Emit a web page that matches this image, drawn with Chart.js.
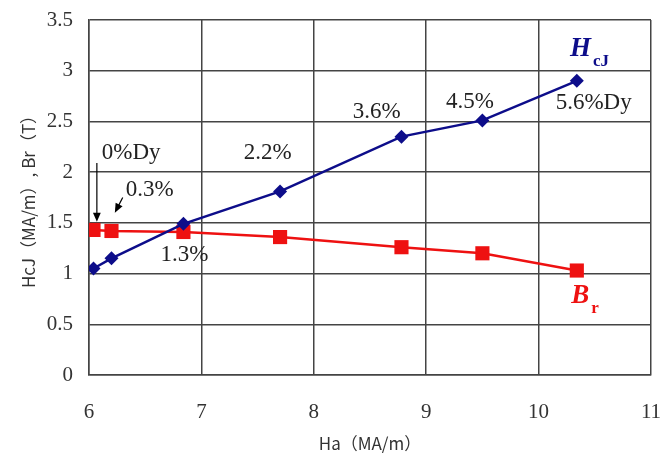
<!DOCTYPE html>
<html>
<head>
<meta charset="utf-8">
<script src="https://cdn.jsdelivr.net/npm/chart.js@4"></script>
<style>
  html, body { margin: 0; padding: 0; background: #fff; }
  #wrap { width: 662px; height: 455px; }
</style>
</head>
<body>
<div id="wrap"><canvas id="chart"></canvas></div>
<script>
// Ha (MA/m) for each Dy content
const ha = [6.04, 6.2, 6.84, 7.7, 8.78, 9.5, 10.34];
const hcj = [1.05, 1.15, 1.49, 1.81, 2.35, 2.51, 2.9];
const br = [1.43, 1.42, 1.41, 1.36, 1.26, 1.2, 1.03];

// Dy content labels, placed in data units
const dyLabels = ['0%Dy', '0.3%', '2.2%', '1.3%', '3.6%', '4.5%', '5.6%Dy'];
const dyLabelX = [6.375, 6.54, 7.59, 6.85, 8.56, 9.39, 10.49];
const dyLabelY = [2.185, 1.82, 2.185, 1.18, 2.59, 2.69, 2.68];

const toPoints = (xs, ys) => xs.map((x, i) => ({ x: x, y: ys[i] }));

const annotations = {
  id: 'annotations',
  afterDatasetsDraw(chart) {
    const ctx = chart.ctx;
    const xs = chart.scales.x, ys = chart.scales.y;
    const px = v => xs.getPixelForValue(v);
    const py = v => ys.getPixelForValue(v);
    ctx.save();

    ctx.fillStyle = '#222';
    ctx.font = '23px "Liberation Serif", serif';
    ctx.textAlign = 'center';
    ctx.textBaseline = 'middle';
    dyLabels.forEach((t, i) => ctx.fillText(t, px(dyLabelX[i]), py(dyLabelY[i])));

    // arrows
    function arrow(x1, y1, x2, y2) {
      const a1 = px(x1), b1 = py(y1), a2 = px(x2), b2 = py(y2);
      const ang = Math.atan2(b2 - b1, a2 - a1);
      const len = 10;
      ctx.strokeStyle = '#000';
      ctx.fillStyle = '#000';
      ctx.lineWidth = 1.2;
      ctx.beginPath();
      ctx.moveTo(a1, b1);
      ctx.lineTo(a2 - Math.cos(ang) * len * 0.8, b2 - Math.sin(ang) * len * 0.8);
      ctx.stroke();
      ctx.beginPath();
      ctx.moveTo(a2, b2);
      ctx.lineTo(a2 - len * Math.cos(ang - 0.4), b2 - len * Math.sin(ang - 0.4));
      ctx.lineTo(a2 - len * Math.cos(ang + 0.4), b2 - len * Math.sin(ang + 0.4));
      ctx.closePath();
      ctx.fill();
    }
    arrow(6.07, 2.09, 6.07, 1.51);
    arrow(6.30, 1.75, 6.23, 1.6);

    // series names
    function seriesName(main, sub, x, y, color) {
      const x0 = px(x), y0 = py(y);
      ctx.textAlign = 'left';
      ctx.textBaseline = 'alphabetic';
      ctx.fillStyle = color;
      ctx.font = 'italic bold 27px "Liberation Serif", serif';
      ctx.fillText(main, x0, y0);
      const w = ctx.measureText(main).width;
      ctx.font = 'bold 17px "Liberation Serif", serif';
      ctx.fillText(sub, x0 + w + 2, y0 + 10);
    }
    seriesName('H', 'cJ', 10.28, 3.15, '#0d0d8a');
    seriesName('B', 'r', 10.29, 0.71, '#ee1111');

    ctx.restore();
  }
};

new Chart(document.getElementById('chart'), {
  type: 'scatter',
  data: {
    datasets: [
      {
        label: 'HcJ',
        data: toPoints(ha, hcj),
        showLine: true,
        borderColor: '#0d0d8a',
        backgroundColor: '#0d0d8a',
        borderWidth: 2.5,
        pointStyle: 'rectRot',
        pointRadius: 7,
        pointBorderWidth: 0
      },
      {
        label: 'Br',
        data: toPoints(ha, br),
        showLine: true,
        borderColor: '#ee1111',
        backgroundColor: '#ee1111',
        borderWidth: 2.5,
        pointStyle: 'rect',
        pointRadius: 10,
        pointBorderWidth: 0
      }
    ]
  },
  options: {
    responsive: true,
    maintainAspectRatio: false,
    animation: false,
    layout: { padding: { left: 0, right: 11, top: 20, bottom: 0 } },
    plugins: {
      legend: { display: false },
      tooltip: { enabled: false }
    },
    scales: {
      x: {
        type: 'linear',
        min: 6,
        max: 11,
        ticks: {
          stepSize: 1,
          padding: 25,
          color: '#333',
          font: { family: '"Liberation Serif", serif', size: 21 },
          callback: v => String(v)
        },
        grid: { color: '#444', lineWidth: 1.5, drawTicks: false },
        border: { color: '#444', width: 1.5 },
        title: {
          display: true,
          text: 'Ha（MA/m）',
          color: '#333',
          padding: { top: 0, bottom: 1 },
          font: { family: '"Noto Sans CJK JP", sans-serif', size: 17 }
        },
        afterFit(scale) {
          scale.height = 80;
          scale.paddingLeft = 0;
          scale.paddingRight = 0;
        }
      },
      y: {
        min: 0,
        max: 3.5,
        ticks: {
          stepSize: 0.5,
          padding: 16,
          color: '#333',
          font: { family: '"Liberation Serif", serif', size: 21 },
          callback: v => String(v)
        },
        grid: { color: '#444', lineWidth: 1.5, drawTicks: false },
        border: { color: '#444', width: 1.5 },
        title: {
          display: true,
          text: 'HcJ（MA/m）, Br（T）',
          color: '#333',
          padding: { top: 18, bottom: 0 },
          font: { family: '"Noto Sans CJK JP", sans-serif', size: 17 }
        },
        afterFit(scale) {
          scale.width = 89;
          scale.paddingTop = 0;
          scale.paddingBottom = 0;
        }
      }
    }
  },
  plugins: [annotations]
});
</script>
</body>
</html>
